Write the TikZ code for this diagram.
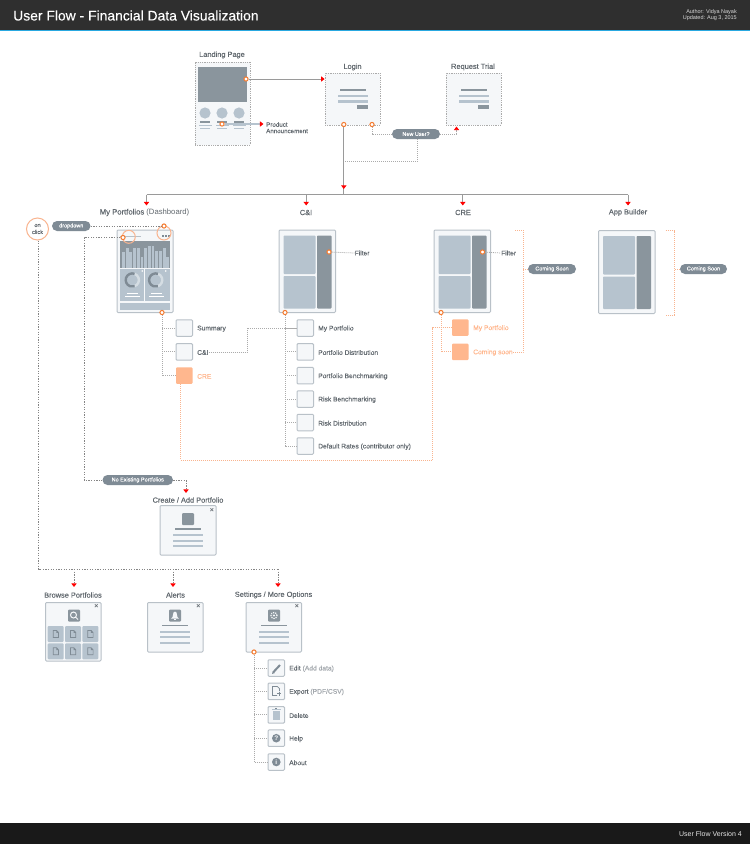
\documentclass[tikz,border=0pt]{standalone}
\usepackage{fontspec}
\setmainfont{Liberation Sans}
\newfontfamily\medf{Liberation Sans}[FakeBold=0.15]
\usetikzlibrary{arrows.meta,calc}
\definecolor{hdr}{HTML}{2F2F2F}
\definecolor{blu}{HTML}{29A8E0}
\definecolor{dk}{HTML}{8A959D}
\definecolor{lt}{HTML}{B6C3CE}
\definecolor{pg}{HTML}{F5F7F9}
\definecolor{edge}{HTML}{B9C1C8}
\definecolor{ln}{HTML}{9A9A9A}
\definecolor{dotgray}{HTML}{ABABAB}
\definecolor{dotdark}{HTML}{858585}
\definecolor{greyt}{HTML}{A3A8AD}
\definecolor{txt}{HTML}{62696F}
\definecolor{org}{HTML}{F47B30}
\definecolor{pale}{HTML}{FFB78E}
\definecolor{paleline}{HTML}{F9B48F}
\definecolor{pillc}{HTML}{7F8B95}
\definecolor{ringl}{HTML}{D5DDE3}
\tikzset{
 x=1pt,y=-1pt,
 wire/.style={draw=edge,line width=1pt,fill=pg,rounded corners=1pt,inner sep=0pt},
 dotwire/.style={draw=dotgray,line width=.8pt,densely dotted,fill=pg,inner sep=0pt},
 pill/.style={fill=pillc,rounded corners=5pt,inner sep=0pt,text=white,font=\medf\fontsize{5.5}{6}\selectfont},
 palebox/.style={fill=pale,rounded corners=1pt,inner sep=0pt},
 lbl/.style={text=txt,font=\medf\fontsize{7.4}{9}\selectfont,inner sep=0pt},
 itm/.style={text=txt,font=\medf\fontsize{6.7}{8}\selectfont,inner sep=0pt,anchor=west,yshift=-.7pt},
 dotn/.style={circle,draw=org,fill=white,line width=1pt,minimum size=4.2pt,inner sep=0pt},
 halo/.style={circle,draw=paleline,line width=1pt,inner sep=0pt},
 solidln/.style={draw=ln,line width=1pt},
 dotln/.style={draw=dotgray,line width=.8pt,dash pattern=on 1pt off 1pt},
 dotdk/.style={draw=dotdark,line width=.8pt,dash pattern=on 1.3pt off 1.3pt},
 orgln/.style={draw=paleline,line width=.8pt,dash pattern=on 1pt off 1pt},
 toarrow/.style={-{Triangle[color=red,fill=red,length=3.6pt,width=5.2pt]}},
 dkf/.style={fill=dk},
 ltf/.style={fill=lt},
 glyph/.style={draw=pillc,line width=.8pt,fill=none},
 xmark/.style={text=txt,font=\fontsize{7}{7}\selectfont\bfseries,inner sep=0pt},
}
\newcommand{\wfbox}[7][wire]{%
 \pgfmathsetmacro\wfcx{(#3+#5)/2}\pgfmathsetmacro\wfcy{(#4+#6)/2}%
 \pgfmathsetmacro\wfw{#5-#3}\pgfmathsetmacro\wfh{#6-#4}%
 \node[#1,minimum width=\wfw pt,minimum height=\wfh pt] (#2) at (\wfcx,\wfcy) {#7};}
\newcommand{\wfitem}[5][wire]{% style,name,y,x,text
 \pgfmathsetmacro\wfxa{#4}\pgfmathsetmacro\wfxb{#4+16.5}%
 \pgfmathsetmacro\wfya{#3-8.25}\pgfmathsetmacro\wfyb{#3+8.25}%
 \wfbox[#1]{#2}{\wfxa}{\wfya}{\wfxb}{\wfyb}{}%
 \pgfmathsetmacro\wfxc{#4+21}%
 \node[itm] (#2-t) at (\wfxc,#3) {#5};}
\newcommand{\rbar}[5]{\fill[#1] (#2,#3) rectangle (#4,#5);}
\newcommand{\txtblock}[2]{%
 \rbar{dkf}{#1-13}{#2-.8}{#1+13}{#2+.8}%
 \rbar{ltf}{#1-15}{#2+5}{#1+15}{#2+7.4}%
 \rbar{ltf}{#1-15}{#2+10.5}{#1+15}{#2+12.9}%
 \rbar{ltf}{#1-15}{#2+16}{#1+15}{#2+18.4}}
\newcommand{\frameinner}[1]{%
 \begin{scope}[shift={(#1,0)}]
 \fill[ltf,rounded corners=.8pt] (0,235.5) rectangle (32,274);
 \fill[ltf,rounded corners=.8pt] (0,276) rectangle (32,308.5);
 \fill[dkf,rounded corners=.8pt] (33.5,235.5) rectangle (48,308.5);
 \end{scope}}
\newcommand{\docicon}[2]{\draw[glyph,line width=.7pt,shift={(#1,#2)}] (-2.5,-3.5) -- (1,-3.5) -- (2.8,-1.5) -- (2.8,3.5) -- (-2.5,3.5) -- cycle (1,-3.5) -- (1,-1.5) -- (2.8,-1.5);}
\begin{document}
\begin{tikzpicture}
\useasboundingbox (0,0) rectangle (750,844);
\fill[white] (0,0) rectangle (750,844);
% header / footer
\fill[hdr] (0,0) rectangle (750,30);
\fill[blu] (0,30) rectangle (750,31);
\fill[black!90] (0,823) rectangle (750,844);
\node[anchor=west,text=white,inner sep=0pt,font=\medf\fontsize{13.9}{17}\selectfont] (title) at (13,15.5) {User Flow - Financial Data Visualization};
\node[anchor=east,text=white!85!black,inner sep=0pt,font=\fontsize{5.5}{6.6}\selectfont,align=right] (author) at (737,15) {Author: Vidya Nayak\\Updated: Aug 3, 2015};
\node[anchor=east,text=white!90!black,inner sep=0pt,font=\fontsize{7}{8}\selectfont] (footer) at (742,833.5) {User Flow Version 4};

% Landing page
\node[lbl] (l-land) at (222,55) {Landing Page};
\wfbox[dotwire]{land}{195}{62}{250}{145}{}
\rbar{dkf}{198}{67}{247}{102}
\foreach \cx in {205,222,239}{
 \fill[ltf] (\cx,113) circle[radius=5.6pt];
 \rbar{dkf}{\cx-5}{121.4}{\cx+5}{122.6}
 \rbar{ltf}{\cx-6.5}{124.8}{\cx+6.5}{126}
 \rbar{ltf}{\cx-5}{128}{\cx+5}{129.2}
}
\node[text=txt,inner sep=0pt,anchor=west,align=left,font=\medf\fontsize{6.2}{6.4}\selectfont] (l-prod) at (266,127.7) {Product\\Announcement};
% Login, Trial
\node[lbl] (l-login) at (352.5,67) {Login};
\wfbox[dotwire]{login}{325}{73}{380}{125}{}
\node[lbl] (l-trial) at (473,67) {Request Trial};
\wfbox[dotwire]{trial}{446}{73}{501}{125}{}
\foreach \cx in {352.5,473.5}{
 \rbar{dkf}{\cx-13}{89}{\cx+13}{90.6}
 \rbar{ltf}{\cx-15}{94.5}{\cx+15}{97}
 \rbar{ltf}{\cx-15}{100}{\cx+15}{102.5}
 \rbar{dkf}{\cx+4}{104.5}{\cx+15.5}{109}
}
\node[dotn] (d-land) at (246,79) {};
\node[dotn] (d-prod) at (222,124) {};
\coordinate (c-prod) at (263.5,124);
\draw[solidln,toarrow] (d-land) -- (login.west |- d-land);
\draw[draw=lt,line width=1.4pt,toarrow] (d-prod) -- (c-prod);
\node[dotn] (d-login) at (343.8,124.5) {};
\node[dotn] (d-new) at (372,124.5) {};
\wfbox[pill]{newuser}{392}{129}{440}{139}{New User?}
\coordinate (c-trunk) at (343.8,194.5);
\coordinate (c-trunka) at (343.8,189);
\coordinate (c-tup) at (456.5,126.5);
\coordinate (c-nbot) at (417.5,161.5);
\draw[dotln] (d-new) |- (newuser.west);
\draw[dotln,toarrow] (newuser.east) -| (c-tup);
\draw[dotln] (newuser.south -| c-nbot) -- (c-nbot) -- (c-nbot -| c-trunk);
\draw[solidln,line width=1.2pt] (d-login) -- (c-trunk);
\draw[solidln,line width=1.2pt,toarrow] (d-login) -- (c-trunka);
\coordinate (c-t1) at (146.5,194.5);
\coordinate (c-t4) at (628,194.5);
\coordinate (a1) at (146.5,205.5);
\coordinate (a2) at (306.2,205.5);
\coordinate (a3) at (462.8,205.5);
\coordinate (a4) at (628,205.5);
\draw[solidln] (c-t1) -- (c-t4);
\foreach \a in {a1,a2,a3,a4}{\draw[solidln,toarrow] (\a |- c-t1) -- (\a);}

% Section labels
\node[lbl,font=\medf\fontsize{7.7}{9}\selectfont] (l-port) at (144.5,212.5) {My Portfolios {\fontspec{Liberation Sans}(Dashboard)}};
\node[lbl] (l-ci) at (306,212.5) {C\&I};
\node[lbl] (l-cre) at (463,212.5) {CRE};
\node[lbl] (l-app) at (628,212.5) {App Builder};

% Dashboard
\wfbox{dash}{117}{230}{173}{312.5}{}
\rbar{dkf}{120}{241}{170}{267.5}
\foreach \bx/\by in {122/251.7,125.7/247.7,129.4/252.3,133.1/248.3,136.8/248.3,140.5/257,144.2/247.7,147.9/246.3,151.6/246.3,155.3/251,159/251,162.7/248.3,166.4/257}{
 \rbar{ltf}{\bx}{\by}{\bx+2.8}{267.5}
}
\rbar{ltf}{120}{268.5}{143.8}{301}
\rbar{ltf}{145.2}{268.5}{170}{301}
\rbar{ltf}{120}{303}{170}{309.5}
\rbar{fill=edge}{120}{235.7}{141}{236.7}
\foreach \cx in {132.3,155.7}{
 \draw[draw=ringl,line width=2.4pt] (\cx,280) ++(-70:6.6pt) arc[start angle=-70,end angle=70,radius=6.6pt];
 \draw[draw=pillc,line width=2.4pt] (\cx,280) ++(70:6.6pt) arc[start angle=70,end angle=290,radius=6.6pt];
 \fill[white] (\cx-5,292.5) rectangle (\cx+6,293.5);
 \fill[white] (\cx-7,295.5) rectangle (\cx+8,296.5);
 \fill[white] (\cx+10,271) circle[radius=.9pt];
}
\foreach \cx in {162,165,168}{\fill[pillc] (\cx,235.2) rectangle (\cx+1.5,236.8);}
\node[halo,minimum size=14pt] (h-menu) at (164,233) {};
\node[halo,minimum size=13pt] (h-title) at (128.8,236.8) {};
\node[dotn] (d-menu) at (164,226) {};
\node[dotn] (d-title) at (123,237.5) {};
\node[dotn] (d-dash) at (162,312.5) {};
\node[halo,fill=white,minimum size=22pt,align=center,text=txt,font=\medf\fontsize{5.6}{7}\selectfont] (onclick) at (37.5,229) {on\\click};
\wfbox[pill]{drop}{52}{221}{90.5}{231}{dropdown}
\draw[dotdk] (drop.east) -- (d-menu);
% items
\wfitem{sum}{328}{176}{Summary}
\wfitem{cii}{351.8}{176}{C\&I}
\wfitem[palebox]{crei}{375.7}{176}{\textcolor{pale}{CRE}}
\draw[dotln] (d-dash) |- (crei.west);
\draw[dotln] (d-dash |- sum.west) -- (sum.west);
\draw[dotln] (d-dash |- cii.west) -- (cii.west);

% C&I
\wfbox{ci}{279}{230}{335.5}{312.5}{}
\frameinner{283.5}
\node[dotn] (d-ci) at (285,312.5) {};
\node[dotn] (d-cif) at (329,252) {};
\node[itm] (l-f1) at (354.5,252.3) {Filter};
\draw[dotln] (d-cif) -- (l-f1.west);
\wfitem{i1}{328}{297}{My Portfolio}
\wfitem{i2}{351.8}{297}{Portfolio Distribution}
\wfitem{i3}{375.7}{297}{Portfolio Benchmarking}
\wfitem{i4}{399}{297}{Risk Benchmarking}
\wfitem{i5}{422.5}{297}{Risk Distribution}
\wfitem{i6}{446}{297}{Default Rates (contributor only)}
\draw[dotln] (d-ci) |- (i6.west);
\foreach \n in {i1,i2,i3,i4,i5}{\draw[dotln] (d-ci |- \n.west) -- (\n.west);}
\coordinate (c-ci) at (247.5,340);
\draw[dotln] (cii-t.east) -- ++(2,0) -| (c-ci) |- (i1.west);

% CRE
\wfbox{cre}{434}{230}{490.5}{312.5}{}
\frameinner{438.5}
\node[dotn] (d-cre) at (441,312.5) {};
\node[dotn] (d-cref) at (482.5,252) {};
\node[itm] (l-f2) at (501,252.3) {Filter};
\draw[dotln] (d-cref) -- (l-f2.west);
\wfitem[palebox]{o1}{327.6}{452}{\textcolor{pale}{My Portfolio}}
\wfitem[palebox]{o2}{351.8}{452}{\textcolor{pale}{Coming soon}}
\draw[orgln] (d-cre) |- (o2.west);
\coordinate (c-orgb) at (180.8,460);
\coordinate (c-orgr) at (432.8,460);
\draw[orgln] (crei.south -| c-orgb) -- (c-orgb) -- (c-orgr) |- (o1.west);
\coordinate (c-br) at (523,230);
\coordinate (c-brl) at (514,230);
\wfbox[pill]{soon1}{528}{264}{576}{274}{Coming Soon}
\draw[orgln] (o2-t.east) -- ++(2,0) -| (c-br) -- (c-brl);
\draw[orgln] (soon1.west) -- (soon1.west -| c-br);

% App builder
\wfbox{app}{598.5}{230.5}{655}{313.5}{}
\begin{scope}[shift={(164.5,.5)}]\frameinner{438.5}\end{scope}
\coordinate (c-ab1) at (665.5,230.5);
\coordinate (c-ab2) at (674,230.5);
\coordinate (c-ab3) at (674,315);
\coordinate (c-ab4) at (665.5,315);
\wfbox[pill]{soon2}{680}{264}{727}{274}{Coming Soon}
\draw[orgln] (c-ab1) -- (c-ab2) -- (c-ab3) -- (c-ab4);
\draw[orgln] (soon2.west) -- (soon2.west -| c-ab2);

% No existing / Create
\wfbox[pill]{noex}{102.5}{475}{173}{485}{No Existing Portfolios}
\coordinate (c-no) at (84,400);
\coordinate (a-create) at (186,493);
\draw[dotdk] (d-title) -| (c-no) |- (noex.west);
\draw[dotdk,toarrow] (noex.east) -| (a-create);
\node[lbl] (l-create) at (188,500) {Create / Add Portfolio};
\wfbox{create}{160}{505.5}{216}{555}{}
\node[xmark] (x1) at (212,510) {×};
\fill[dkf,rounded corners=1pt] (182,513) rectangle (194,525);
\begin{scope}[shift={(188,0)}]\txtblock{0}{529}\end{scope}

% Bottom row
\coordinate (c-bl) at (38.5,569);
\coordinate (a-browse) at (74,587);
\coordinate (a-alerts) at (173,587);
\coordinate (a-sett) at (278,587);
\draw[dotdk] (onclick.south -| c-bl) -- (c-bl) -- (c-bl -| a-sett);
\foreach \a in {a-browse,a-alerts,a-sett}{\draw[dotdk,toarrow] (\a |- c-bl) -- (\a);}
\node[lbl] (l-browse) at (73,595) {Browse Portfolios};
\node[lbl] (l-alerts) at (175.5,595) {Alerts};
\node[lbl] (l-sett) at (273.5,595) {Settings / More Options};
\wfbox{browse}{45.5}{602.5}{101}{661}{}
\wfbox{alerts}{147.5}{602.5}{203}{652}{}
\wfbox{sett}{246}{602.5}{301.5}{652}{}
\node[xmark] (x2) at (96.5,606.5) {×};
\node[xmark] (x3) at (198.5,606.5) {×};
\node[xmark] (x4) at (297,606.5) {×};
% browse content
\fill[dkf,rounded corners=1pt] (68,609.5) rectangle (80,621.5);
\draw[draw=pg,line width=1pt] (73.5,615) circle[radius=3pt] (75.6,617.1) -- (78,619.5);
\foreach \tx in {47.7,65,82.3}{\foreach \ty in {626,643.3}{
 \fill[ltf,rounded corners=1pt] (\tx,\ty) rectangle (\tx+16,\ty+16);
 \docicon{\tx+8}{\ty+8}
}}
% alerts
\fill[dkf,rounded corners=1pt] (169,609.5) rectangle (181,621.5);
\fill[pg] (175,611.5) -- (176.5,612.5) -- (177.5,617) -- (179,618.5) -- (171,618.5) -- (172.5,617) -- (173.5,612.5) -- cycle;
\fill[pg] (174,619) rectangle (176,620);
\begin{scope}[shift={(175,0)}]\txtblock{0}{625.5}\end{scope}
% settings
\fill[dkf,rounded corners=1pt] (268,609.5) rectangle (280,621.5);
\draw[draw=pg,line width=1.2pt,densely dotted] (274,615.5) circle[radius=3pt];
\fill[pg] (274,615.5) circle[radius=1.2pt];
\begin{scope}[shift={(274,0)}]\txtblock{0}{625.5}\end{scope}
% settings items
\node[dotn] (d-sett) at (254,652) {};
\wfitem{s1}{668}{268}{Edit \textcolor{greyt}{(Add data)}}
\wfitem{s2}{691.3}{268}{Export \textcolor{greyt}{(PDF/CSV)}}
\wfitem{s3}{714.8}{268}{Delete}
\wfitem{s4}{738.2}{268}{Help}
\wfitem{s5}{762}{268}{About}
\draw[dotln] (d-sett) |- (s5.west);
\foreach \n in {s1,s2,s3,s4}{\draw[dotln] (d-sett |- \n.west) -- (\n.west);}
% icons
\draw[draw=pillc,line width=2pt] (273.5,672) -- (280,665);
\fill[pillc] (272,674) -- (272.8,671) -- (274.8,673) -- cycle;
\draw[glyph,line width=.7pt] (277,695.5) -- (272.5,695.5) -- (272.5,686.5) -- (277.5,686.5) -- (279.5,688.5) -- (279.5,691);
\draw[glyph,line width=.8pt] (279,691.5) -- (279,696) (276.8,693.8) -- (281.2,693.8);
\fill[fill=lt] (272.5,711) rectangle (280,720);
\fill[fill=lt] (271.5,709) rectangle (281,710.3);
\fill[pillc] (275.2,708) rectangle (277.2,709);
\fill[pillc] (276.3,738.2) circle[radius=4.3pt];
\node[text=pg,inner sep=0pt,font=\fontsize{6.5}{6.5}\selectfont\bfseries] (qmark) at (276.3,738.2) {?};
\fill[pillc] (276.3,762) circle[radius=4.3pt];
\node[text=pg,inner sep=0pt,font=\fontsize{6.5}{6.5}\selectfont\bfseries] (imark) at (276.3,762) {i};
\end{tikzpicture}
\end{document}
